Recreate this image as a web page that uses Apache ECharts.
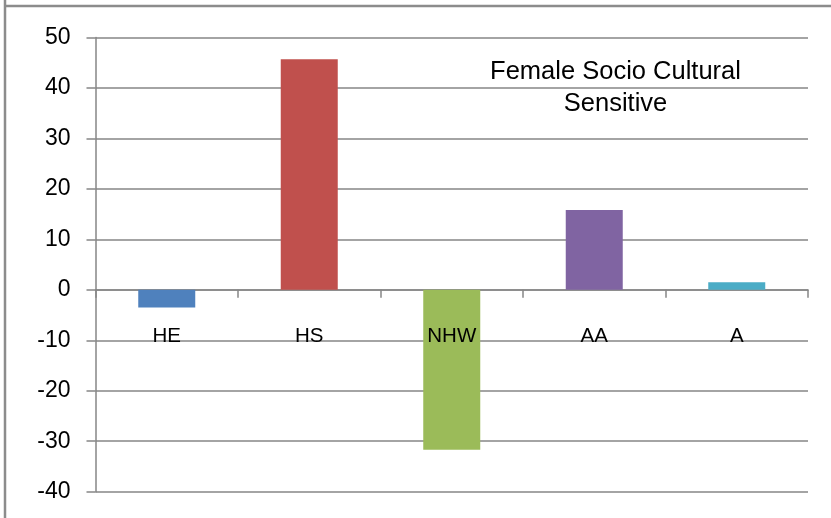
<!DOCTYPE html>
<html>
<head>
<meta charset="utf-8">
<style>html,body{margin:0;padding:0;background:#fff;}#chart{width:831px;height:518px;}</style>
<script src="https://cdn.jsdelivr.net/npm/echarts@6/dist/echarts.min.js"></script>
</head>
<body>
<div id="chart"></div>
<script>
const categories = ['HE', 'HS', 'NHW', 'AA', 'A'];
const values = [-3.5, 45.7, -31.7, 15.8, 1.5];
const barColors = ['#4F81BD', '#C0504D', '#9BBB59', '#8064A2', '#4BACC6'];
const yTicks = { min: -40, max: 50, interval: 10 };
const titleLines = ['Female Socio Cultural', 'Sensitive'];

const chart = echarts.init(document.getElementById('chart'), null, { renderer: 'canvas' });
const font = '"Liberation Sans", Arial, sans-serif';
chart.setOption({
  animation: false,
  backgroundColor: '#ffffff',
  grid: { left: 95.5, right: 23, top: 37.5, bottom: 26.3, containLabel: false, outerBoundsMode: 'none' },
  xAxis: {
    type: 'category',
    data: categories,
    axisLine: { onZero: true, lineStyle: { color: '#868686', width: 1.5 } },
    axisTick: { show: true, length: 8, lineStyle: { color: '#868686', width: 1.5 } },
    axisLabel: { show: false }
  },
  yAxis: {
    type: 'value',
    min: yTicks.min, max: yTicks.max, interval: yTicks.interval,
    axisLine: { show: true, lineStyle: { color: '#868686', width: 1.5 } },
    axisTick: { show: true, length: 9, lineStyle: { color: '#868686', width: 1.5 } },
    splitLine: { show: true, lineStyle: { color: '#868686', width: 1.5 } },
    axisLabel: { margin: 25, fontSize: 23, color: '#000', fontFamily: font }
  },
  series: [{
    type: 'bar',
    data: values.map((v, i) => ({ value: v, itemStyle: { color: barColors[i] } })),
    barWidth: 57
  }, {
    type: 'scatter',
    symbolSize: 0,
    silent: true,
    z: 5,
    itemStyle: { opacity: 1 },
    data: categories.map(c => [c, 0]),
    label: {
      show: true, position: 'bottom', distance: 36,
      formatter: p => p.value[0],
      fontSize: 20.5, color: '#000', opacity: 1, fontFamily: font
    }
  }],
  graphic: [
    { type: 'line', shape: { x1: 5, y1: 0, x2: 5, y2: 518 }, style: { stroke: '#8c8c8c', lineWidth: 2.5 } },
    { type: 'line', shape: { x1: 4, y1: 6, x2: 831, y2: 6 }, style: { stroke: '#8c8c8c', lineWidth: 2.5 } },
    { type: 'text', x: 615.5, y: 72, style: { text: titleLines[0], font: '25.5px "Liberation Sans", Arial, sans-serif', fill: '#000', textAlign: 'center', textVerticalAlign: 'middle' } },
    { type: 'text', x: 615.5, y: 104, style: { text: titleLines[1], font: '25.5px "Liberation Sans", Arial, sans-serif', fill: '#000', textAlign: 'center', textVerticalAlign: 'middle' } }
  ]
});
</script>
</body>
</html>
